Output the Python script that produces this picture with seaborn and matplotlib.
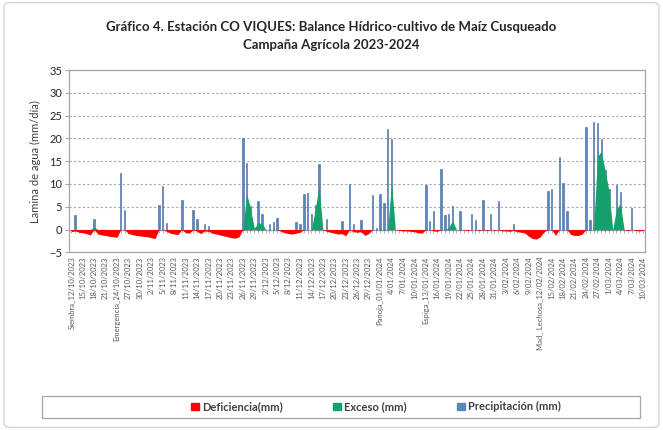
import numpy as np
import pandas as pd
import matplotlib
matplotlib.use('Agg')
import matplotlib.pyplot as plt
from matplotlib.patches import Rectangle, FancyBboxPatch
import seaborn as sns

sns.set_style('white')
plt.rcParams['font.family'] = ['Lato', 'DejaVu Sans']

# ── Datos diarios de la campaña (12/10/2023 - 10/03/2024) ──
fechas = pd.date_range('2023-10-12', '2024-03-10', freq='D')
n_dias = len(fechas)

# fases fenologicas (indice de dia -> etiqueta)
fases = {0: 'Siembra_12/10/2023', 12: 'Emergencia_24/10/2023', 81: 'Panoja_01/01/2024',
         93: 'Espiga_13/01/2024', 123: 'Mad_ Lechosa_12/02/2024'}

# precipitacion (solo dias con lluvia)
dias_lluvia = [1, 6, 13, 14, 23, 24, 25, 29, 32, 33, 35, 36, 45, 46, 47, 49, 50, 52, 53, 54,
               59, 60, 61, 62, 63, 64, 65, 67, 71, 73, 74, 76, 79, 80, 81, 82, 83, 84,
               93, 94, 95, 97, 98, 99, 100, 102, 105, 106, 108, 110, 112, 116,
               125, 126, 128, 129, 130, 135, 136, 137, 138, 139, 140, 141, 143, 144, 147]
lluvia_mm = [3.1, 2.4, 12.3, 4.3, 5.3, 9.5, 1.5, 6.4, 4.2, 2.4, 1.2, 0.7, 20.0, 14.7, 5.2, 6.2, 3.5, 1.1, 1.6, 2.6,
             1.6, 1.1, 7.9, 8.0, 3.3, 5.3, 14.3, 2.3, 1.8, 10.1, 1.1, 2.0, 7.5, 0.4, 7.7, 5.8, 22.1, 19.9,
             9.7, 1.8, 4.0, 13.2, 3.1, 3.4, 5.1, 4.0, 3.5, 2.0, 6.4, 3.3, 6.2, 1.2,
             8.4, 9.0, 16.0, 10.3, 4.0, 22.6, 2.0, 23.6, 23.4, 19.8, 13.0, 8.8, 9.7, 8.2, 4.7]

# exceso (solo dias con exceso)
dias_exceso = [6, 46, 47, 48, 49, 50, 64, 65, 84, 99, 100, 138, 139, 140, 141, 143, 144]
exceso_mm = [0.5, 7.8, 4.8, 0.3, 1.4, 1.4, 4.5, 9.5, 10.4, 0.4, 2.0, 16.0, 17.2, 13.0, 8.6, 4.5, 5.7]

# deficiencia diaria (negativa)
deficiencia = [-0.5, -0.3, -0.6, -0.7, -0.9, -1.2, 0, -1.0, -1.2, -1.3, -1.5, -1.6, -1.7, 0, 0,
               -0.9, -1.1, -1.3, -1.4, -1.5, -1.6, -1.8, -2.0, 0, 0, -0.4, -0.8, -1.0, -1.1, 0,
               -0.7, -0.8, 0, -0.4, -0.9, -0.3, -0.4, -0.8, -1.0, -1.2, -1.4, -1.6, -1.8, -1.9, -1.6,
               0, 0, 0, 0, 0, 0, 0, 0, 0, 0,
               -0.4, -0.7, -0.9, -1.0, -0.8, -0.6, 0, 0, 0, 0, 0, 0,
               -0.4, -0.6, -0.8, -1.0, -0.9, -1.4, 0, -0.5, -0.6, -0.5, -1.3, -0.9,
               0, 0, 0, 0, 0, 0, 0,
               -0.2, -0.3, -0.3, -0.4, -0.5, -0.7, -0.8, 0, 0, -0.3, -0.4,
               0, 0, 0, 0, 0, 0,
               -0.1, -0.2, 0, 0, -0.2, 0, -0.2, 0, -0.2, 0, -0.3, -0.3, -0.4, -0.2, -0.5, -0.6, -0.8,
               -1.5, -2.0, -2.1, -1.6, -0.5, 0, 0, -1.3, 0, 0, 0, -1.1, -1.3, -1.3, -1.0,
               0, 0, 0, 0, 0, 0, 0, 0, 0, 0, 0,
               -0.2, 0, -0.2, -0.3, -0.2]

precip = np.zeros(n_dias)
precip[dias_lluvia] = lluvia_mm
exceso = np.zeros(n_dias)
exceso[dias_exceso] = exceso_mm

df = pd.DataFrame({'fecha': fechas.strftime('%d/%m/%Y'), 'precip': precip,
                   'exceso': exceso, 'deficiencia': deficiencia})

etiquetas = []
for i in range(0, n_dias, 3):
    if i in fases:
        etiquetas.append(fases[i])
    else:
        d = fechas[i]
        etiquetas.append(f"{d.day}/{d.month:02d}/{d.year}")

C_DEF = '#FF0000'
C_EXC = '#16A06C'
C_PRE = '#5B85BF'
GRIS = '#A6A6A6'

fig = plt.figure(figsize=(6.63, 4.30), dpi=100)
ax = fig.add_axes([0.1045, 0.4133, 0.8685, 0.4237])

x = np.arange(n_dias)
sns.barplot(data=df, x='fecha', y='precip', color=C_PRE, saturation=1, width=0.38,
            errorbar=None, ax=ax, zorder=3, edgecolor='#416A9E', linewidth=0.4)
ax.fill_between(x, 0, df['deficiencia'], color=C_DEF, lw=0, zorder=4)
ax.fill_between(x, 0, df['exceso'], color=C_EXC, lw=0, zorder=4)
ax.axhline(0, color=GRIS, lw=0.8, zorder=1)

ax.set_xlim(-0.5, n_dias - 0.5)
ax.set_ylim(-5, 35)
ax.set_yticks(range(-5, 36, 5))
ax.yaxis.grid(True, ls=(0, (2, 2)), color=GRIS, lw=0.8)
ax.set_axisbelow(True)
ax.set_xticks(range(0, n_dias, 3))
ax.set_xticklabels(etiquetas, rotation=90, fontsize=5.5, color='#595959')
ax.tick_params(axis='x', length=0, pad=3)
ax.tick_params(axis='y', length=3, color=GRIS, labelsize=8, labelcolor='#262626', pad=2, left=True)
for s in ax.spines.values():
    s.set_color(GRIS)
    s.set_linewidth(0.9)
ax.set_xlabel('')
ax.set_ylabel('Lamina de agua (mm/día)', fontsize=8, color='#404040', labelpad=6)

# marcas diarias sobre la linea de cero
eje0 = ax.secondary_xaxis(5 / 40)
eje0.set_xticks(range(n_dias))
eje0.set_xticklabels([])
eje0.tick_params(length=2.5, width=0.6, color=GRIS)
eje0.spines['bottom'].set_color(GRIS)
eje0.spines['bottom'].set_linewidth(0.8)

fig.text(0.5, 0.937, 'Gráfico 4. Estación CO VIQUES: Balance Hídrico-cultivo de Maíz Cusqueado',
         ha='center', va='center', fontsize=9.5, fontweight='bold', color='#262626')
fig.text(0.5, 0.895, 'Campaña Agrícola 2023-2024', ha='center', va='center',
         fontsize=9.5, fontweight='bold', color='#262626')

# caja de leyenda y borde exterior
fig.patches.append(Rectangle((0.063, 0.028), 0.902, 0.052, transform=fig.transFigure,
                             fill=False, edgecolor=GRIS, lw=0.9))
fig.patches.append(FancyBboxPatch((0.006, 0.006), 0.988, 0.988, boxstyle='round,pad=0,rounding_size=0.01',
                                  transform=fig.transFigure, fill=False, edgecolor='#D0D0D0', lw=0.9))
handles = [Rectangle((0, 0), 1, 1, color=C_DEF), Rectangle((0, 0), 1, 1, color=C_EXC),
           Rectangle((0, 0), 1, 1, color=C_PRE)]
fig.legend(handles, ['Deficiencia(mm)', 'Exceso (mm)', 'Precipitación (mm)'],
           loc='center', bbox_to_anchor=(0.567, 0.054), ncol=3, frameon=False,
           handlelength=0.7, handleheight=0.7, handletextpad=0.3, columnspacing=4.5,
           prop={'size': 8, 'weight': 'bold'}, labelcolor='#404040')

fig.savefig('out.png', dpi=100)
